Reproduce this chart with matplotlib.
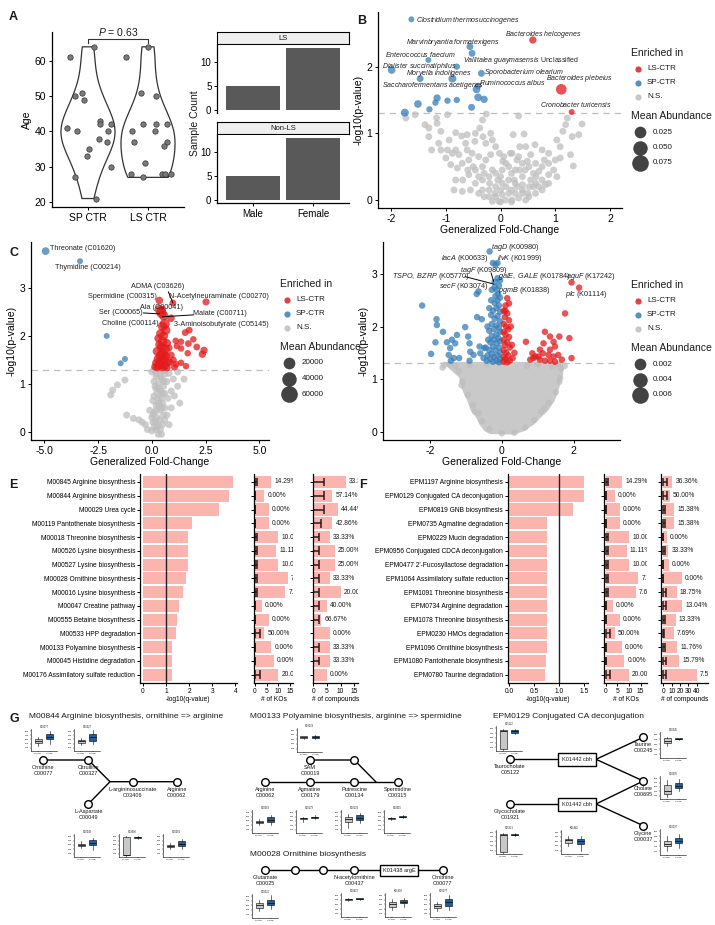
import numpy as np
import matplotlib
matplotlib.use('Agg')
from matplotlib import pyplot as plt
from matplotlib.patches import Polygon, Rectangle

plt.rcParams['font.family'] = ['Liberation Sans', 'DejaVu Sans']
plt.rcParams['mathtext.fontset'] = 'custom'
plt.rcParams['mathtext.rm'] = 'Liberation Sans'
plt.rcParams['mathtext.it'] = 'Liberation Sans:italic'
plt.rcParams['axes.linewidth'] = 0.9
plt.rcParams['xtick.major.width'] = 0.7
plt.rcParams['ytick.major.width'] = 0.7
plt.rcParams['xtick.major.size'] = 2.5
plt.rcParams['ytick.major.size'] = 2.5
plt.rcParams['xtick.major.pad'] = 1.5
plt.rcParams['ytick.major.pad'] = 1.5
plt.rcParams['text.color'] = '#1a1a1a'

RED = '#E41A1C'
BLUE = '#377EB8'
GREY = '#BEBEBE'
SALMON = '#FBB4AE'
BOXBLUE = '#1F5F9E'

# ---------------- A ----------------
sp_age = [61, 50, 51, 49, 41, 40, 35, 33, 27, 64, 21, 43, 42, 38, 40, 37, 42, 30]
sp_jit = [0.70, 0.78, 0.905, 0.93, 0.645, 0.82, 1.02, 0.98, 0.78, 1.105, 1.13, 1.2, 1.2, 1.18, 1.33, 1.31, 1.38, 1.38]
ls_age = [64, 51, 50, 40, 37, 42, 42, 40, 42, 37, 36, 31, 28, 27, 28, 28, 28, 61]
ls_jit = [2.0, 1.89, 2.14, 1.73, 1.77, 1.92, 2.14, 2.12, 2.31, 2.31, 2.26, 1.95, 1.72, 1.91, 2.23, 2.29, 2.38, 1.63]
age_p = 0.63
sex = ['Male', 'Female']
count_ls = [5, 13]
count_nonls = [5, 13]

# ---------------- B (species) ----------------
# (fold change, -log10 p, mean abundance)
b_sp = [(-1.63, 2.71, 0.0005), (-0.56, 2.30, 0.002), (-0.52, 2.20, 0.002), (-1.32, 2.10, 0.0005),
        (-0.80, 2.00, 0.001), (-1.99, 1.95, 0.004), (-1.47, 1.82, 0.002), (-0.88, 1.82, 0.005),
        (-0.35, 1.90, 0.002), (-0.44, 1.66, 0.004), (-0.41, 1.71, 0.001), (-0.41, 1.54, 0.004),
        (-0.30, 1.51, 0.003), (-1.16, 1.53, 0.003), (-0.80, 1.50, 0.001), (-0.97, 1.49, 0.001),
        (-1.19, 1.46, 0.001), (-1.51, 1.44, 0.004), (-1.30, 1.36, 0.001), (-0.53, 1.39, 0.002),
        (-1.75, 1.31, 0.005)]
b_ls = [(0.59, 2.40, 0.003), (1.11, 1.66, 0.018), (1.30, 1.32, 0.0005)]
b_ns = [(-1.73, 1.23), (-1.56, 1.28), (-1.38, 1.13), (-1.31, 1.08), (-1.16, 1.15), (-1.17, 1.23),
        (-1.09, 1.03), (-0.97, 1.28), (-0.82, 1.01), (-0.71, 0.96), (-0.61, 0.98), (-0.47, 0.88),
        (-0.46, 1.00), (-0.38, 1.08), (-0.33, 1.20), (-0.32, 0.95), (-0.26, 1.29), (-0.18, 1.00),
        (-0.15, 0.90), (-0.27, 0.85), (-0.09, 0.80), (-0.02, 0.70), (0.04, 0.58), (0.23, 0.98),
        (0.33, 1.26), (0.43, 0.99), (0.35, 0.80), (0.21, 0.70), (0.55, 0.68), (0.63, 0.83),
        (0.76, 0.75), (0.88, 0.70), (1.09, 0.80), (1.14, 1.03), (1.19, 1.13), (1.22, 1.23),
        (1.31, 0.95), (1.43, 0.98), (1.49, 1.14), (1.03, 0.90), (1.28, 0.68), (1.33, 0.51),
        (-1.26, 0.75), (-1.09, 0.75), (-1.00, 0.63), (-0.91, 0.53), (-0.79, 0.48), (-0.70, 0.55),
        (-0.58, 0.60), (-0.52, 0.70), (-0.61, 0.75), (-0.76, 0.68), (-0.88, 0.70), (-0.97, 0.75),
        (-0.82, 0.30), (-0.69, 0.30), (-0.58, 0.38), (-0.46, 0.45), (-0.33, 0.50), (-0.27, 0.60),
        (-0.40, 0.65), (-0.55, 0.15), (-0.46, 0.25), (-0.33, 0.30), (-0.21, 0.35), (-0.09, 0.40),
        (0.03, 0.45), (0.15, 0.50), (0.27, 0.45), (0.40, 0.55), (0.52, 0.50), (0.64, 0.55),
        (0.76, 0.50), (0.88, 0.55), (1.00, 0.60), (1.09, 0.63), (0.97, 0.45), (0.88, 0.38),
        (0.76, 0.30), (0.64, 0.25), (0.52, 0.20), (0.40, 0.23), (0.27, 0.25), (0.15, 0.30),
        (0.03, 0.25), (-0.09, 0.20), (-0.21, 0.15), (-0.33, 0.15), (-0.21, 0.05), (-0.09, 0.05),
        (0.03, 0.08), (0.15, 0.10), (0.27, 0.10), (0.40, 0.10), (0.52, 0.05), (0.64, 0.10),
        (0.76, 0.15), (0.82, 0.23), (0.09, 0.00), (-0.03, -0.02), (0.21, 0.00), (0.33, 0.03),
        (-0.15, -0.02), (0.46, 0.00), (-0.85, 0.15), (-0.70, 0.13), (0.88, 0.25), (1.03, 0.35),
        (0.18, 0.70), (0.06, 0.65), (-0.18, 0.68), (0.33, 0.65), (0.49, 0.58), (0.70, 0.43),
        (-0.64, 0.85), (-0.82, 0.75), (-0.94, 0.90), (-1.13, 0.85), (0.46, 0.80), (-1.31, 0.95),
        (-0.40, 0.10), (-0.30, 0.05), (-0.10, 0.10), (0.00, 0.15), (0.10, 0.20), (0.20, 0.15),
        (0.30, 0.20), (0.40, 0.15), (0.50, 0.10), (0.60, 0.20), (-0.20, 0.25), (0.00, 0.35),
        (0.20, 0.40), (0.40, 0.35), (0.60, 0.40), (-0.40, 0.35), (-0.15, 0.45), (0.10, 0.55),
        (0.30, 0.60), (-0.05, 0.30), (0.25, 0.30), (0.45, 0.45), (0.65, 0.35), (-0.30, 0.40),
        (-0.50, 0.50), (0.80, 0.60), (-0.60, 0.45), (0.00, -0.03), (0.20, -0.03), (0.35, 0.45),
        (0.55, 0.30), (0.70, 0.20)]
b_labels = [(r'$\it{Clostridium\ thermosuccinogenes}$', -1.55, 2.70, 'left'),
            (r'$\it{Bacteroides\ helcogenes}$', 0.78, 2.48, 'center'),
            (r'$\it{Marvinbryantia\ formatexigens}$', -0.87, 2.37, 'center'),
            (r'$\it{Enterococcus\ faecium}$', -1.47, 2.18, 'center'),
            (r'$\it{Vallitalea\ guaymasensis}$ Unclassified', 0.37, 2.09, 'center'),
            (r'$\it{Dialister\ succinatiphilus}$', -1.48, 2.00, 'center'),
            (r'$\it{Moryella\ indoligenes}$', -1.12, 1.90, 'center'),
            (r'$\it{Sporobacterium\ olearium}$', 0.43, 1.92, 'center'),
            (r'$\it{Bacteroides\ plebeius}$', 1.45, 1.82, 'center'),
            (r'$\it{Ruminococcus\ albus}$', 0.22, 1.76, 'center'),
            (r'$\it{Saccharofermentans\ acetigenes}$', -1.23, 1.72, 'center'),
            (r'$\it{Cronobacter\ turicensis}$', 1.38, 1.43, 'center')]

# ---------------- C (metabolites) ----------------
c_sp = [(-4.94, 3.77, 3300), (-3.34, 3.56, 400), (-2.10, 2.00, 400), (-1.25, 1.52, 400), (-1.45, 1.43, 400)]
c_ls = [(0.35, 2.74, 3000), (0.98, 2.69, 1500), (2.52, 2.71, 2000), (0.46, 2.54, 6000), (0.35, 2.55, 9000),
        (0.45, 2.48, 12000), (0.89, 2.37, 3000), (0.55, 2.42, 8000), (0.60, 2.25, 12000), (0.50, 2.20, 9000),
        (0.65, 2.12, 8000), (0.40, 2.05, 6000), (0.55, 2.00, 7000), (0.30, 1.95, 4000), (0.50, 1.88, 9000),
        (0.70, 1.85, 5000), (0.35, 1.82, 5000), (0.45, 1.76, 8000), (0.60, 1.72, 12000), (0.25, 1.68, 7000),
        (0.50, 1.63, 15000), (0.40, 1.58, 9000), (0.65, 1.58, 6000), (0.30, 1.52, 8000), (0.55, 1.52, 12000),
        (0.45, 1.47, 7000), (0.20, 1.44, 4000), (0.75, 1.46, 4000), (0.35, 1.40, 9000), (0.60, 1.38, 6000),
        (0.15, 1.36, 3000), (0.50, 1.35, 5000), (0.85, 1.45, 2000), (0.25, 1.34, 3000), (0.70, 1.34, 3000),
        (1.74, 2.12, 1500), (1.55, 2.07, 1500), (1.11, 1.90, 1000), (1.36, 1.88, 1000), (1.70, 1.84, 1500),
        (1.93, 1.93, 1000), (2.09, 1.77, 1500), (2.43, 1.70, 2500), (2.35, 1.62, 2500), (1.67, 1.64, 1000),
        (1.36, 1.74, 1000), (1.16, 1.79, 1000), (1.13, 1.41, 1500), (1.36, 1.44, 1000), (1.59, 1.37, 1000),
        (0.90, 1.60, 2000), (0.80, 1.75, 2000), (1.00, 1.50, 1500), (1.05, 1.35, 1500)]
c_ns = [(-1.25, 1.08), (-1.60, 0.98), (-1.82, 0.87), (-1.91, 0.77), (-1.17, 0.35), (-0.86, 0.28),
        (-0.60, 0.25), (-0.45, 0.20), (-0.30, 0.15), (-0.20, 0.05), (0.00, 0.02), (0.10, 0.10),
        (0.20, 0.05), (0.30, 0.15), (0.05, 0.20), (0.25, 0.30), (0.10, 0.40), (0.40, 0.45),
        (0.20, 0.55), (0.50, 0.60), (0.30, 0.70), (0.10, 0.75), (0.60, 0.80), (0.40, 0.85),
        (0.20, 0.90), (0.55, 0.95), (0.30, 1.00), (0.10, 1.05), (0.45, 1.10), (0.70, 1.05),
        (0.20, 1.15), (0.60, 1.20), (0.35, 1.20), (0.00, 1.25), (0.80, 1.22), (0.50, 1.28),
        (0.15, 1.28), (1.00, 1.10), (1.20, 0.95), (0.90, 0.85), (1.05, 0.75), (1.30, 0.60),
        (0.90, 0.50), (0.70, 0.35), (0.80, 0.15), (0.45, -0.05), (0.30, -0.05), (0.00, 0.30),
        (0.60, 0.50), (0.35, 0.55), (-0.10, 0.45), (0.75, 0.70), (1.50, 1.10), (1.20, 1.25),
        (0.10, 1.30), (0.30, 1.30), (0.45, 1.30), (0.60, 1.28), (0.20, 1.22), (0.40, 1.15),
        (0.55, 1.05), (0.15, 0.95), (0.35, 0.90), (0.50, 0.80), (0.25, 0.80), (0.05, 0.65),
        (0.30, 0.60), (0.45, 0.50), (0.20, 0.45), (0.55, 0.35), (0.35, 0.25), (0.15, 0.20),
        (0.50, 0.15), (0.25, 0.10), (0.40, 0.05), (0.60, 0.25), (0.45, 0.70), (0.05, 0.35)]
c_labels = [('Threonate (C01620)', -4.73, 3.83, 'left'), ('Thymidine (C00214)', -2.98, 3.43, 'center'),
            ('ADMA (C03626)', 0.27, 3.04, 'center'), ('Spermidine (C00315)', -1.35, 2.82, 'center'),
            ('N-Acetylneuraminate (C00270)', 3.13, 2.82, 'center'), ('Ala (C00041)', 0.47, 2.60, 'center'),
            ('Ser (C00065)', -1.42, 2.48, 'center'), ('Malate (C00711)', 3.17, 2.47, 'center'),
            ('Choline (C00114)', -1.01, 2.25, 'center'), ('3-Aminoisobutyrate (C05145)', 3.23, 2.24, 'center')]
c_leaders = [(0.77, 2.92, 0.98, 2.69), (-0.39, 2.48, 0.35, 2.46), (1.93, 2.44, 0.49, 2.40)]

# ---------------- D (KOs) ----------------
d_sp = [(-0.34, 3.43), (-0.25, 3.21), (-0.12, 3.21), (-0.18, 3.18), (-0.12, 2.92), (-0.20, 2.85),
        (-0.08, 2.78), (-0.20, 2.75), (-0.15, 2.70), (-0.05, 2.88), (-0.70, 2.62), (-0.65, 2.67),
        (-0.28, 2.70), (-2.22, 2.40), (-1.82, 2.14), (-1.81, 2.03), (-1.64, 1.90), (-1.97, 1.48),
        (-1.85, 1.70), (-1.53, 1.70), (-1.39, 1.75), (-1.25, 1.84), (-1.30, 1.68), (-1.44, 1.59),
        (-1.48, 1.46), (-1.34, 1.40), (-1.19, 1.40), (-1.42, 1.35), (-1.02, 1.99), (-0.94, 1.81),
        (-0.90, 1.68), (-0.88, 1.52), (-0.90, 1.35), (-0.79, 1.46), (-0.69, 2.18), (-0.56, 2.14),
        (-0.62, 1.62), (-0.49, 1.59), (-0.60, 1.49), (-0.51, 1.40), (-0.42, 1.35),
        (-0.05, 2.55), (-0.12, 2.50), (-0.20, 2.45), (-0.08, 2.40), (-0.15, 2.35), (-0.25, 2.30),
        (-0.05, 2.28), (-0.30, 2.22), (-0.12, 2.20), (-0.20, 2.15), (-0.05, 2.10), (-0.28, 2.05),
        (-0.15, 2.02), (-0.08, 1.98), (-0.22, 1.95), (-0.35, 1.92), (-0.05, 1.90), (-0.15, 1.85),
        (-0.28, 1.82), (-0.10, 1.78), (-0.22, 1.75), (-0.05, 1.72), (-0.32, 1.70), (-0.15, 1.68),
        (-0.25, 1.62), (-0.08, 1.60), (-0.18, 1.55), (-0.35, 1.55), (-0.05, 1.50), (-0.28, 1.48),
        (-0.12, 1.45), (-0.22, 1.42), (-0.05, 1.38), (-0.32, 1.38), (-0.15, 1.35), (-0.25, 1.33),
        (-0.08, 1.32), (-0.40, 1.45), (-0.45, 1.60), (-0.40, 2.00), (-0.35, 2.35), (-0.30, 2.50),
        (-0.18, 2.58), (-0.10, 2.62), (-0.38, 1.75)]
d_ls = [(1.94, 2.84), (2.15, 2.74), (1.76, 2.25), (0.67, 1.71), (0.85, 1.49), (0.93, 1.43), (1.06, 1.56),
        (1.16, 1.68), (1.20, 1.90), (1.34, 1.81), (1.44, 1.71), (1.48, 1.62), (1.60, 1.81), (1.34, 1.56),
        (1.30, 1.46), (1.14, 1.49), (1.02, 1.43), (0.88, 1.40), (0.79, 1.37), (1.20, 1.35), (1.44, 1.43),
        (1.57, 1.46), (1.67, 1.37), (1.48, 1.33), (1.88, 1.78), (1.94, 1.40), (1.34, 1.35), (1.06, 1.37),
        (0.15, 2.54), (0.20, 2.44), (0.10, 2.40), (0.05, 2.30), (0.15, 2.25), (0.08, 2.18), (0.20, 2.12),
        (0.05, 2.05), (0.12, 2.00), (0.18, 1.95), (0.05, 1.90), (0.10, 1.85), (0.20, 1.80), (0.05, 1.75),
        (0.15, 1.70), (0.08, 1.65), (0.22, 1.60), (0.05, 1.55), (0.12, 1.50), (0.18, 1.45), (0.05, 1.42),
        (0.10, 1.38), (0.22, 1.35), (0.05, 1.33), (0.15, 1.32), (0.30, 1.40), (0.35, 1.50), (0.28, 1.65),
        (0.25, 2.00), (0.10, 2.30)]
# outline of the dense non-significant cloud
d_ns_outline = [(-1.53, 1.30), (-1.48, 1.24), (-1.16, 1.05), (-1.06, 0.79), (-0.93, 0.60), (-0.83, 0.41),
                (-0.69, 0.29), (-0.60, 0.16), (-0.46, 0.03), (-0.32, -0.02), (0.32, -0.03), (0.60, 0.03),
                (0.88, 0.16), (1.06, 0.29), (1.25, 0.41), (1.44, 0.60), (1.57, 0.86), (1.67, 1.11), (1.67, 1.30)]
d_ns = [(-1.45, 1.28), (-1.30, 1.25), (-1.20, 1.15), (-1.10, 0.95), (-0.95, 0.70), (-0.80, 0.50),
        (-0.65, 0.35), (-0.55, 0.20), (-0.35, 0.05), (0.00, -0.03), (0.35, -0.02), (0.65, 0.08),
        (0.90, 0.22), (1.10, 0.38), (1.30, 0.55), (1.50, 0.75), (1.60, 0.95), (1.65, 1.20), (1.55, 1.28),
        (1.40, 1.25), (-1.60, 1.27), (-0.40, 1.28), (0.70, 1.25), (1.00, 1.28), (-0.90, 1.27),
        (1.75, 1.25), (-1.65, 1.22), (-1.12, 0.88), (1.62, 1.02), (-0.75, 0.38), (1.18, 0.45)]
d_labels = [(r'$\it{tagD}$ (K00980)', 0.375, 3.50), (r'$\it{lacA}$ (K00633)', -1.02, 3.30),
            (r'$\it{ilvK}$ (K01999)', 0.49, 3.30), (r'$\it{tagF}$ (K09809)', -0.49, 3.07),
            (r'$\it{TSPO,\ BZRP}$ (K05770)', -1.99, 2.96), (r'$\it{galE,\ GALE}$ (K01784)', 0.90, 2.95),
            (r'$\it{aguF}$ (K17242)', 2.48, 2.95), (r'$\it{secF}$ (K03074)', -1.06, 2.76),
            (r'$\it{pgmB}$ (K01838)', 0.63, 2.69), (r'$\it{plc}$ (K01114)', 2.36, 2.61)]
d_leaders = [(-1.02, 2.95, -0.23, 2.81), (-0.30, 3.02, -0.23, 2.86)]

# ---------------- E / F (enrichment) ----------------
e_names = ['M00845 Arginine biosynthesis', 'M00844 Arginine biosynthesis', 'M00029 Urea cycle',
           'M00119 Pantothenate biosynthesis', 'M00018 Threonine biosynthesis', 'M00526 Lysine biosynthesis',
           'M00527 Lysine biosynthesis', 'M00028 Ornithine biosynthesis', 'M00016 Lysine biosynthesis',
           'M00047 Creatine pathway', 'M00555 Betaine biosynthesis', 'M00533 HPP degradation',
           'M00133 Polyamine biosynthesis', 'M00045 Histidine degradation', 'M00176 Assimilatory sulfate reduction']
e_q = [3.88, 3.73, 3.30, 2.12, 1.94, 1.94, 1.95, 1.85, 1.74, 1.56, 1.49, 1.44, 1.25, 1.25, 1.25]
e_ko_n = [7, 4, 6, 6, 10, 9, 10, 14, 13, 3, 6, 4, 7, 8, 10]
e_ko_sig = [1, 0, 0, 0, 1, 1, 1, 1, 1, 0, 0, 2, 0, 0, 2]
e_cpd_n = [12, 7, 9, 7, 6, 8, 8, 6, 10, 5, 3, 6, 6, 6, 5]
e_cpd_sig = [4, 4, 4, 3, 2, 2, 2, 2, 2, 2, 2, 0, 2, 2, 0]

f_names = ['EPM1197 Arginine biosynthesis', 'EPM0129 Conjugated CA deconjugation', 'EPM0819 GNB biosynthesis',
           'EPM0735 Agmatine degradation', 'EPM0229 Mucin degradation', 'EPM0956 Conjugated CDCA deconjugation',
           "EPM0477 2'-Fucosyllactose degradation", 'EPM1064 Assimilatory sulfate reduction',
           'EPM1091 Threonine biosynthesis', 'EPM0734 Arginine degradation', 'EPM1078 Threonine biosynthesis',
           'EPM0230 HMOs degradation', 'EPM1096 Ornithine biosynthesis', 'EPM1080 Pantothenate biosynthesis',
           'EPM0780 Taurine degradation']
f_q = [1.50, 1.50, 1.27, 0.75, 0.75, 0.75, 0.75, 0.75, 0.75, 0.75, 0.75, 0.75, 0.75, 0.73, 0.71]
f_ko_n = [7, 4, 6, 6, 10, 9, 10, 14, 13, 3, 6, 4, 7, 8, 10]
f_ko_sig = [1, 0, 0, 0, 1, 1, 1, 1, 1, 0, 0, 2, 0, 0, 2]
f_cpd_n = [11, 8, 13, 13, 4, 6, 7, 22, 16, 23, 15, 13, 17, 19, 40]
f_cpd_sig = [4, 4, 2, 2, 0, 2, 0, 0, 3, 3, 2, 1, 2, 3, 3]

# ---------------- G (pathway mini boxplots) ----------------
# each: [SP-CTR (whislo, q1, med, q3, whishi), LS-CTR (...)]
g_ornithine = [(0.20, 0.35, 0.42, 0.50, 0.60), (0.30, 0.50, 0.60, 0.75, 0.90)]
g_citrulline = [(0.25, 0.35, 0.42, 0.48, 0.55), (0.30, 0.45, 0.60, 0.78, 0.95)]
g_aspartate = [(0.35, 0.45, 0.50, 0.56, 0.70), (0.25, 0.50, 0.60, 0.72, 0.80)]
g_argsucc = [(0.00, 0.02, 0.05, 0.85, 0.90), (0.78, 0.80, 0.85, 0.88, 0.90)]
g_arginine = [(0.30, 0.40, 0.47, 0.52, 0.60), (0.30, 0.45, 0.55, 0.68, 0.75)]
g_sam = [(0.50, 0.55, 0.60, 0.63, 0.66), (0.54, 0.58, 0.62, 0.66, 0.70)]
g_agmatine = [(0.45, 0.60, 0.63, 0.65, 0.70), (0.60, 0.65, 0.68, 0.70, 0.75)]
g_putrescine = [(0.20, 0.45, 0.60, 0.70, 0.80), (0.40, 0.55, 0.65, 0.78, 0.85)]
g_spermidine = [(0.55, 0.60, 0.63, 0.65, 0.68), (0.65, 0.68, 0.70, 0.72, 0.75)]
g_glutamate = [(0.25, 0.40, 0.50, 0.60, 0.75), (0.35, 0.50, 0.62, 0.75, 0.95)]
g_acetylorn = [(0.66, 0.70, 0.72, 0.74, 0.77), (0.68, 0.72, 0.75, 0.77, 0.80)]
g_arge = [(0.25, 0.40, 0.50, 0.62, 0.75), (0.40, 0.55, 0.62, 0.70, 0.80)]
g_ornithine2 = [(0.20, 0.35, 0.42, 0.50, 0.60), (0.25, 0.45, 0.60, 0.75, 0.90)]
g_taurocholate = [(0.00, 0.05, 0.78, 0.82, 0.88), (0.65, 0.72, 0.78, 0.82, 0.86)]
g_taurine = [(0.45, 0.55, 0.62, 0.75, 0.80), (0.68, 0.70, 0.72, 0.74, 0.76)]
g_cholate = [(0.05, 0.20, 0.30, 0.60, 0.80), (0.30, 0.45, 0.55, 0.70, 0.85)]
g_glycocholate = [(0.00, 0.05, 0.78, 0.83, 0.88), (0.72, 0.76, 0.79, 0.82, 0.85)]
g_cbh = [(0.30, 0.45, 0.55, 0.62, 0.75), (0.10, 0.38, 0.50, 0.62, 0.72)]
g_glycine = [(0.10, 0.30, 0.38, 0.50, 0.70), (0.25, 0.42, 0.50, 0.62, 0.80)]

W, H = 715, 925
fig = plt.figure(figsize=(7.15, 9.25), dpi=100)


def rect(l, t, r, b):
    return [l / W, 1 - b / H, (r - l) / W, (b - t) / H]


# overlay in pixel coordinates for legends, panel letters and pathway drawings
ov = fig.add_axes([0, 0, 1, 1], zorder=-1)
ov.set_xlim(0, W)
ov.set_ylim(H, 0)
ov.axis('off')


def size_of(ab, k):
    d = 5 + k * np.sqrt(np.asarray(ab, dtype=float))
    return (d * 0.72) ** 2


def classic(ax):
    ax.spines['top'].set_visible(False)
    ax.spines['right'].set_visible(False)


def panel_letter(x, y, s):
    ov.text(x, y, s, fontsize=9, fontweight='bold', ha='left', va='center')


# ---------- A ----------
ax = fig.add_axes(rect(52, 32, 184, 207))
vp = ax.violinplot([sp_age, ls_age], positions=[1, 2], widths=0.9, showextrema=False, bw_method=0.55)
for body in vp['bodies']:
    body.set_facecolor('none')
    body.set_edgecolor('#333333')
    body.set_linewidth(0.9)
    body.set_alpha(1)
ax.scatter(sp_jit, sp_age, s=15, color='#7a7a7a', edgecolor='#333333', linewidth=0.5, zorder=3)
ax.scatter(ls_jit, ls_age, s=15, color='#7a7a7a', edgecolor='#333333', linewidth=0.5, zorder=3)
ax.plot([1, 1, 2, 2], [65.1, 66.2, 66.2, 65.1], color='#333333', lw=0.8)
ax.text(1.5, 66.4, '$P$ = %.2f' % age_p, ha='center', va='bottom', fontsize=7.5)
ax.set_xlim(0.4, 2.6)
ax.set_ylim(18.6, 68.2)
ax.set_yticks([20, 30, 40, 50, 60])
ax.set_xticks([1, 2])
ax.set_xticklabels(['SP CTR', 'LS CTR'])
ax.tick_params(labelsize=7.5)
ax.set_ylabel('Age', fontsize=7.5, labelpad=2)
classic(ax)

for t, b, strip, counts, show_x in [(45, 113, 'LS', count_ls, False), (135, 203, 'Non-LS', count_nonls, True)]:
    sax = fig.add_axes(rect(217, t - 13, 349, t - 1))
    sax.set_facecolor('#EFEFEF')
    sax.set_xticks([])
    sax.set_yticks([])
    for s in sax.spines.values():
        s.set_linewidth(0.8)
    sax.text(0.5, 0.5, strip, ha='center', va='center', fontsize=5.5, transform=sax.transAxes)
    bax = fig.add_axes(rect(217, t, 349, b))
    bax.bar([1, 2], counts, width=0.9, color='#595959')
    bax.set_xlim(0.4, 2.6)
    bax.set_ylim(-0.65, 13.65)
    bax.set_yticks([0, 5, 10])
    bax.set_xticks([1, 2])
    bax.tick_params(labelsize=7)
    classic(bax)
    if show_x:
        bax.set_xticklabels(sex)
    else:
        bax.spines['bottom'].set_visible(False)
        bax.tick_params(axis='x', length=0, labelbottom=False)
ov.text(195, 123, 'Sample Count', rotation=90, ha='center', va='center', fontsize=7.5)


# ---------- volcano helpers ----------
def volcano_axes(l, t, r, b, xlim, ylim, xticks, xticklabels, yticks):
    ax = fig.add_axes(rect(l, t, r, b))
    ax.set_xlim(xlim)
    ax.set_ylim(ylim)
    ax.set_xticks(xticks)
    ax.set_xticklabels(xticklabels)
    ax.set_yticks(yticks)
    ax.tick_params(labelsize=7.5)
    classic(ax)
    ax.axhline(1.30, color='#bdbdbd', lw=0.9, ls=(0, (5, 4)), zorder=0.5)
    ax.set_xlabel('Generalized Fold-Change', fontsize=7.5, labelpad=1)
    ax.set_ylabel('-log10(p-value)', fontsize=7.5, labelpad=2)
    return ax


def scatter_group(ax, pts, color, k, default_ab=None, z=2):
    arr = np.array(pts, dtype=float)
    if default_ab is None:
        ab = arr[:, 2]
    else:
        ab = np.full(len(arr), default_ab)
    ax.scatter(arr[:, 0], arr[:, 1], s=size_of(ab, k), color=color, alpha=0.75, linewidth=0, zorder=z)


def volcano_legend(x, y, ab_vals, k, fmt):
    ov.text(x, y, 'Enriched in', fontsize=7.5, va='center')
    for i, (lab, col) in enumerate(zip(['LS-CTR', 'SP-CTR', 'N.S.'], [RED, BLUE, GREY])):
        yy = y + 15.5 + 14 * i
        ov.scatter([x + 7], [yy], s=20, color=col, alpha=0.85, linewidth=0)
        ov.text(x + 16, yy, lab, fontsize=5.8, va='center')
    ov.text(x, y + 63, 'Mean Abundance', fontsize=7.5, va='center')
    yy = y + 79
    for v in ab_vals:
        ov.scatter([x + 9], [yy], s=size_of(v, k), color='#222222', alpha=0.85, linewidth=0)
        ov.text(x + 22, yy, fmt(v), fontsize=5.8, va='center')
        yy += 15.5


# ---------- B ----------
ax = volcano_axes(378, 12, 622, 208, (-2.24, 2.22), (-0.12, 2.82), [-2, -1, 0, 1, 2],
                  ['-2', '-1', '0', '1', '2'], [0, 1, 2])
scatter_group(ax, b_ns, GREY, 42.4, default_ab=0.002, z=1)
scatter_group(ax, b_sp, BLUE, 42.4)
scatter_group(ax, b_ls, RED, 42.4)
for txt, x, y, ha in b_labels:
    ax.text(x, y, txt, fontsize=5.0, ha=ha, va='center', color='#222222', zorder=5)
volcano_legend(631, 53, [0.025, 0.050, 0.075], 42.4, lambda v: '%.3f' % v)

# ---------- C ----------
ax = volcano_axes(31, 242, 269, 440, (-5.62, 5.45), (-0.17, 3.96), [-5, -2.5, 0, 2.5, 5],
                  ['-5.0', '-2.5', '0.0', '2.5', '5.0'], [0, 1, 2, 3])
scatter_group(ax, c_ns, GREY, 0.0475, default_ab=1800, z=1)
scatter_group(ax, c_sp, BLUE, 0.0475)
scatter_group(ax, c_ls, RED, 0.0475)
for x1, y1, x2, y2 in c_leaders:
    ax.plot([x1, x2], [y1, y2], color='black', lw=0.7, zorder=4)
for txt, x, y, ha in c_labels:
    ax.text(x, y, txt, fontsize=5.2, ha=ha, va='center', color='#222222', zorder=5)
volcano_legend(280, 284, [20000, 40000, 60000], 0.0475, lambda v: '%d' % v)

# ---------- D ----------
ax = volcano_axes(383, 242, 620, 440, (-3.31, 3.29), (-0.16, 3.61), [-2, 0, 2], ['-2', '0', '2'], [0, 1, 2, 3])
ax.add_patch(Polygon(np.array(d_ns_outline), closed=True, facecolor='#C9C9C9', edgecolor='#C9C9C9',
                     lw=2, zorder=1))
scatter_group(ax, d_ns, GREY, 150, default_ab=0.0001, z=1)
scatter_group(ax, d_sp, BLUE, 150, default_ab=0.0001)
scatter_group(ax, d_ls, RED, 150, default_ab=0.0001)
for x1, y1, x2, y2 in d_leaders:
    ax.plot([x1, x2], [y1, y2], color='black', lw=0.7, zorder=4)
for txt, x, y in d_labels:
    ax.text(x, y, txt, fontsize=5.2, ha='center', va='center', color='#222222', zorder=5)
volcano_legend(631, 285, [0.002, 0.004, 0.006], 150, lambda v: '%.3f' % v)


# ---------- E / F ----------
def count_axis(ax, n, sig, xlim, xticks, xlabel, rows):
    ax.barh(rows, n, height=0.88, color=SALMON, zorder=1)
    ax.hlines(rows, 0, sig, color='#2b1a1a', lw=1.1, zorder=2)
    ax.vlines(np.zeros(len(rows)), rows - 0.32, rows + 0.32, color='#2b1a1a', lw=1.1, zorder=2)
    ax.vlines(sig, rows - 0.32, rows + 0.32, color='#2b1a1a', lw=1.1, zorder=2)
    for i in range(len(rows)):
        ax.annotate('%.2f%%' % (100.0 * sig[i] / n[i]), (n[i], rows[i]), xytext=(2.2, 0),
                    textcoords='offset points', va='center', ha='left', fontsize=4.8, clip_on=True)
    ax.set_xlim(xlim)
    ax.set_xticks(xticks)
    ax.set_yticks(rows)
    ax.set_yticklabels([])
    ax.set_ylim(len(rows) - 0.4, -0.6)
    ax.tick_params(labelsize=4.8, length=2)
    ax.set_xlabel(xlabel, fontsize=4.8, labelpad=0.5)
    classic(ax)


def enrichment(cols, names, q, ko_n, ko_sig, cpd_n, cpd_sig, lims, ticks, qtl, cpd_tl):
    rows = np.arange(len(names))
    t, b = 473.7, 683
    (l1, r1), (l2, r2), (l3, r3) = cols
    ax1 = fig.add_axes(rect(l1, t, r1, b))
    ax1.barh(rows, q, height=0.88, color=SALMON)
    ax1.axvline(1, color='#222222', lw=1)
    ax1.set_yticks(rows)
    ax1.set_yticklabels(names)
    ax1.set_ylim(len(rows) - 0.4, -0.6)
    ax1.set_xlim(lims[0])
    ax1.set_xticks(ticks[0])
    ax1.set_xticklabels(qtl)
    ax1.tick_params(labelsize=4.8, length=2)
    ax1.set_xlabel('-log10(q-value)', fontsize=4.8, labelpad=0.5)
    classic(ax1)
    ax2 = fig.add_axes(rect(l2, t, r2, b))
    count_axis(ax2, ko_n, ko_sig, lims[1], ticks[1], '# of KOs', rows)
    ax3 = fig.add_axes(rect(l3, t, r3, b))
    count_axis(ax3, cpd_n, cpd_sig, lims[2], ticks[2], '# of compounds', rows)
    ax3.set_xticklabels(cpd_tl)


enrichment([(140, 236.7), (254, 293.3), (312.7, 358)], e_names, e_q, e_ko_n, e_ko_sig, e_cpd_n, e_cpd_sig,
           [(-0.12, 4.06), (-0.4, 16.4), (-0.2, 16.4)], [[0, 1, 2, 3, 4], [0, 5, 10, 15], [0, 5, 10, 15]],
           ['0', '1', '2', '3', '4'], ['0', '5', '10', '15'])
enrichment([(507.7, 588.3), (604.3, 646.7), (661, 708.3)], f_names, f_q, f_ko_n, f_ko_sig, f_cpd_n, f_cpd_sig,
           [(-0.03, 1.58), (-0.6, 17.6), (-2.8, 54)], [[0, 0.5, 1.0, 1.5], [0, 5, 10, 15], [0, 10, 20, 30, 40]],
           ['0.0', '0.5', '1.0', '1.5'], ['0', '10', '20', '30', '40'])


# ---------- G ----------
def mini_box(l, t, r, b, stats, title):
    ax = fig.add_axes(rect(l, t, r, b))
    ax.set_facecolor('none')
    st = []
    for s in stats:
        st.append({'whislo': s[0], 'q1': s[1], 'med': s[2], 'q3': s[3], 'whishi': s[4], 'fliers': []})
    bp = ax.bxp(st, positions=[1, 2], widths=0.6, patch_artist=True, showcaps=False,
                boxprops={'linewidth': 0.4}, whiskerprops={'linewidth': 0.4},
                medianprops={'color': '#111111', 'linewidth': 0.6})
    bp['boxes'][0].set_facecolor('#C8C8C8')
    bp['boxes'][1].set_facecolor(BOXBLUE)
    ax.set_xlim(0.4, 2.6)
    ax.set_ylim(-0.05, 1.0)
    ax.set_yticks([0.1, 0.3, 0.5, 0.7, 0.9])
    ax.set_yticklabels(['1.00', '2.00', '3.00', '4.00', '5.00'])
    ax.set_xticks([1, 2])
    ax.set_xticklabels(['SP-CTR', 'LS-CTR'])
    ax.tick_params(labelsize=1.5, length=0.8, width=0.3, pad=0.5)
    for s in ax.spines.values():
        s.set_linewidth(0.4)
    classic(ax)
    ax.set_title(title, fontsize=1.8, pad=1)


def node(x, y, label=None):
    ov.scatter([x], [y], s=30, facecolor='white', edgecolor='black', linewidth=1, zorder=4)
    if label:
        ov.text(x, y + 5, label, ha='center', va='top', fontsize=4, linespacing=1.25, zorder=4)


def edge(pts):
    arr = np.array(pts)
    ov.plot(arr[:, 0], arr[:, 1], color='black', lw=1, zorder=3)


def enzyme(l, t, r, b, label):
    ov.add_patch(Rectangle((l, t), r - l, b - t, facecolor='white', edgecolor='black', lw=1, zorder=4))
    ov.text((l + r) / 2, (t + b) / 2, label, ha='center', va='center', fontsize=4, zorder=5)


title_kw = dict(fontsize=6, ha='left', va='center')
ov.text(29, 716, 'M00844 Arginine biosynthesis, ornithine => arginine', **title_kw)
ov.text(250, 716, 'M00133 Polyamine biosynthesis, arginine => spermidine', **title_kw)
ov.text(250, 855, 'M00028 Ornithine biosynthesis', **title_kw)
ov.text(493, 716, 'EPM0129 Conjugated CA deconjugation', **title_kw)

# M00844
edge([(43.3, 760), (88.3, 760), (110, 781.7), (176.7, 781.7)])
edge([(88.3, 804), (110, 781.7)])
node(43.3, 760, 'Ornithine\nC00077')
node(88.3, 760, 'Citrulline\nC00327')
node(132.7, 781.7, 'L-argininosuccinate\nC03406')
node(176.7, 781.7, 'Arginine\nC00062')
node(88.3, 804, 'L-Aspartate\nC00049')
mini_box(31, 729, 57, 751, g_ornithine, 'C00077')
mini_box(74, 729, 100, 751, g_citrulline, 'C00327')
mini_box(74, 834, 100, 857, g_aspartate, 'C00049')
mini_box(119, 834, 145, 857, g_argsucc, 'C03406')
mini_box(163, 834, 189, 857, g_arginine, 'C00062')

# M00133
edge([(310, 760), (354.3, 760), (375.7, 781.7)])
edge([(265, 781.7), (397.7, 781.7)])
node(310, 760, 'SAM\nC00019')
node(354.3, 760)
node(265, 781.7, 'Arginine\nC00062')
node(310, 781.7, 'Agmatine\nC00179')
node(354.3, 781.7, 'Putrescine\nC00134')
node(397.7, 781.7, 'Spermidine\nC00315')
mini_box(297, 728, 322, 752, g_sam, 'C00019')
mini_box(252, 810, 278, 833, g_arginine, 'C00062')
mini_box(296, 810, 322, 833, g_agmatine, 'C00179')
mini_box(341, 810, 367, 833, g_putrescine, 'C00134')
mini_box(384, 810, 410, 833, g_spermidine, 'C00315')

# M00028
edge([(265, 870), (442.7, 870)])
node(265, 870, 'Glutamate\nC00025')
node(295, 870)
node(323.3, 870)
node(354.3, 870, 'N-acetylornithine\nC00437')
enzyme(380, 864.5, 418.3, 876, 'K01438 argE')
node(442.7, 870, 'Ornithine\nC00077')
mini_box(252, 894, 278, 918, g_glutamate, 'C00025')
mini_box(341, 893, 367, 917, g_acetylorn, 'C00437')
mini_box(385, 893, 411, 917, g_arge, 'K01438')
mini_box(430, 893, 456, 917, g_ornithine2, 'C00077')

# EPM0129
edge([(510, 759.3), (558.3, 759.3)])
edge([(596, 759.3), (643.3, 737.3)])
edge([(596, 759.3), (643.3, 781)])
edge([(510, 804), (558.3, 804)])
edge([(596, 804), (643.3, 781)])
edge([(596, 804), (643.3, 825.7)])
enzyme(558.3, 752.7, 596, 766, 'K01442 cbh')
enzyme(558.3, 797.5, 596, 810.5, 'K01442 cbh')
node(510, 759.3, 'Taurocholate\nC05122')
node(510, 804, 'Glycocholate\nC01921')
node(643.3, 737.3, 'Taurine\nC00245')
node(643.3, 781, 'Cholate\nC00695')
node(643.3, 825.7, 'Glycine\nC00037')
mini_box(496, 726, 522, 751, g_taurocholate, 'C05122')
mini_box(660, 732, 686, 758, g_taurine, 'C00245')
mini_box(660, 776, 686, 799, g_cholate, 'C00695')
mini_box(496, 830, 522, 854, g_glycocholate, 'C01921')
mini_box(561, 830, 588, 854, g_cbh, 'K01442')
mini_box(660, 829, 686, 855, g_glycine, 'C00037')

# panel letters
panel_letter(9, 17, 'A')
panel_letter(357, 21, 'B')
panel_letter(9, 253, 'C')
panel_letter(384, 253, 'D')
panel_letter(9, 485, 'E')
panel_letter(359, 485, 'F')
panel_letter(9, 719, 'G')

fig.savefig('out.png', dpi=100)
